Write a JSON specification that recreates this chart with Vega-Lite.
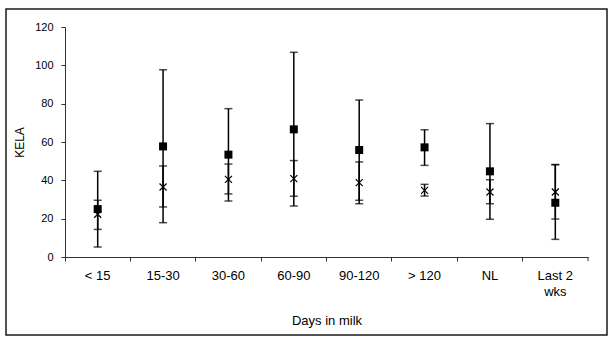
{
  "$schema": "https://vega.github.io/schema/vega-lite/v6.json",
  "autosize": "none",
  "width": 601,
  "height": 326,
  "padding": {"left": 6, "top": 9, "right": 1, "bottom": 2},
  "background": "#ffffff",
  "config": {
    "view": {"stroke": "#1a1a1a", "strokeWidth": 1.5},
    "font": "Liberation Sans",
    "axis": {
      "labelFont": "Liberation Sans",
      "labelFontSize": 11,
      "labelColor": "#000000",
      "titleFont": "Liberation Sans",
      "titleFontSize": 12,
      "titleFontWeight": "normal",
      "titleColor": "#000000",
      "domainColor": "#333333",
      "tickColor": "#333333",
      "tickSize": 4,
      "grid": false
    }
  },
  "data": {
    "values": [
      {"dim": "< 15", "group": "square", "value": 25.0, "lo": 5.2, "hi": 44.7},
      {"dim": "15-30", "group": "square", "value": 57.7, "lo": 17.9, "hi": 97.7},
      {"dim": "30-60", "group": "square", "value": 53.4, "lo": 29.2, "hi": 77.4},
      {"dim": "60-90", "group": "square", "value": 66.6, "lo": 26.6, "hi": 106.8},
      {"dim": "90-120", "group": "square", "value": 55.8, "lo": 27.8, "hi": 81.9},
      {"dim": "> 120", "group": "square", "value": 57.2, "lo": 47.8, "hi": 66.4},
      {"dim": "NL", "group": "square", "value": 44.7, "lo": 19.7, "hi": 69.6},
      {"dim": "Last 2 wks", "group": "square", "value": 28.3, "lo": 9.2, "hi": 48.2},
      {"dim": "< 15", "group": "cross", "value": 22.3, "lo": 14.4, "hi": 29.6},
      {"dim": "15-30", "group": "cross", "value": 36.5, "lo": 26.1, "hi": 47.5},
      {"dim": "30-60", "group": "cross", "value": 40.5, "lo": 32.9, "hi": 48.5},
      {"dim": "60-90", "group": "cross", "value": 40.9, "lo": 31.7, "hi": 50.3},
      {"dim": "90-120", "group": "cross", "value": 38.8, "lo": 29.6, "hi": 49.6},
      {"dim": "> 120", "group": "cross", "value": 34.8, "lo": 31.8, "hi": 37.9},
      {"dim": "NL", "group": "cross", "value": 33.9, "lo": 27.8, "hi": 40.3},
      {"dim": "Last 2 wks", "group": "cross", "value": 33.9, "lo": 19.8, "hi": 48.2}
    ]
  },
  "encoding": {
    "x": {
      "field": "dim",
      "type": "nominal",
      "sort": null,
      "scale": {
        "domain": ["< 15", "15-30", "30-60", "60-90", "90-120", "> 120", "NL", "Last 2 wks"],
        "range": [59, 582],
        "paddingInner": 0,
        "paddingOuter": 0
      },
      "axis": {
        "title": "Days in milk",
        "orient": "bottom",
        "offset": -78,
        "labelAngle": 0,
        "bandPosition": 0,
        "labelFontSize": 13,
        "titleFontSize": 13,
        "labelPadding": 8,
        "labelLineHeight": 16,
        "titlePadding": 16,
        "labelExpr": "datum.label == 'Last 2 wks' ? ['Last 2', 'wks'] : datum.label"
      }
    }
  },
  "layer": [
    {
      "mark": {"type": "errorbar", "ticks": {"size": 8}, "thickness": 1.5, "color": "#000000"},
      "encoding": {
        "y": {
          "field": "lo",
          "type": "quantitative",
          "scale": {"domain": [0, 120], "range": [248, 18], "nice": false},
          "axis": {
            "title": "KELA",
            "orient": "left",
            "offset": -59,
            "values": [0, 20, 40, 60, 80, 100, 120],
            "labelPadding": 8,
            "titlePadding": 8
          }
        },
        "y2": {"field": "hi"}
      }
    },
    {
      "transform": [{"filter": "datum.group == 'square'"}],
      "mark": {"type": "point", "shape": "square", "filled": true, "size": 64, "color": "#000000", "opacity": 1},
      "encoding": {"y": {"field": "value", "type": "quantitative"}}
    },
    {
      "transform": [{"filter": "datum.group == 'cross'"}],
      "mark": {"type": "point", "shape": "M-1,-1L1,1M1,-1L-1,1", "filled": false, "size": 49, "color": "#000000", "strokeWidth": 1.2, "opacity": 1},
      "encoding": {"y": {"field": "value", "type": "quantitative"}}
    },
    {
      "data": {"values": [{"dim": "Last 2 wks"}]},
      "mark": {"type": "rule", "color": "#333333", "strokeWidth": 1},
      "encoding": {
        "x": {"field": "dim", "type": "nominal", "bandPosition": 1},
        "y": {"datum": 0, "type": "quantitative"},
        "y2": {"datum": -2.1}
      }
    }
  ]
}
